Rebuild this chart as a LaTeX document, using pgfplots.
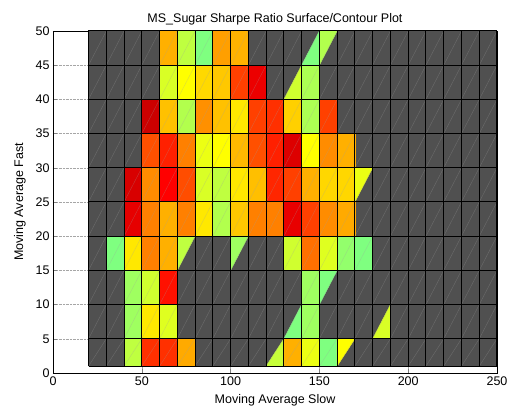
\documentclass[border=0pt]{standalone}
\usepackage{fontspec}
\setmainfont{Liberation Sans}
\usepackage{pgfplots}
\pgfplotsset{compat=1.18}
\definecolor{cellgray}{RGB}{80,80,80}
\newcommand{\chartfont}{\fontsize{12.5}{15}\selectfont}
\begin{document}
\begin{tikzpicture}
\path[use as bounding box] (-53pt,-39pt) rectangle (459pt,373pt);
\begin{axis}[
  at={(0pt,0pt)}, anchor=south west,
  scale only axis, width=444pt, height=342pt,
  xmin=0, xmax=250, ymin=0, ymax=50,
  xtick={0,50,...,250}, ytick={0,5,...,50},
  tick align=inside, major tick length=4pt,
  grid=major, grid style={densely dotted, gray!70, line width=0.5pt},
  colormap/jet, point meta min=0, point meta max=8,
  title={MS\_Sugar Sharpe Ratio Surface/Contour Plot},
  xlabel={Moving Average Slow}, ylabel={Moving Average Fast},
  title style={font=\chartfont, yshift=-4pt},
  label style={font=\chartfont},
  xlabel style={yshift=-2pt},
  ylabel style={yshift=3pt},
  tick label style={font=\chartfont},
  /pgf/number format/assume math mode=true,
  unbounded coords=jump,
  axis line style={line width=0.6pt},
]
% gray background of the surface (cells without a value)
\addplot[fill=cellgray, draw=none] coordinates {(20,1)(250,1)(250,50)(20,50)(20,1)};

% full cells: (x0,y0)(x1,y0)(x1,y1)(x0,y1) with Sharpe value as meta
\addplot[patch, patch type=rectangle, shader=flat, point meta=explicit] coordinates {
% row 45-50
(60,45)[5.62] (70,45)[5.62] (70,50)[5.62] (60,50)[5.62]
(70,45)[4.5] (80,45)[4.5] (80,50)[4.5] (70,50)[4.5]
(80,45)[4.0] (90,45)[4.0] (90,50)[4.0] (80,50)[4.0]
(90,45)[5.75] (100,45)[5.75] (100,50)[5.75] (90,50)[5.75]
(100,45)[5.6] (110,45)[5.6] (110,50)[5.6] (100,50)[5.6]
% row 40-45
(60,40)[4.7] (70,40)[4.7] (70,45)[4.7] (60,45)[4.7]
(70,40)[5.0] (80,40)[5.0] (80,45)[5.0] (70,45)[5.0]
(80,40)[5.3] (90,40)[5.3] (90,45)[5.3] (80,45)[5.3]
(90,40)[5.43] (100,40)[5.43] (100,45)[5.43] (90,45)[5.43]
(100,40)[6.5] (110,40)[6.5] (110,45)[6.5] (100,45)[6.5]
(110,40)[7.15] (120,40)[7.15] (120,45)[7.15] (110,45)[7.15]
(140,40)[4.35] (150,40)[4.35] (150,45)[4.35] (140,45)[4.35]
% row 35-40
(50,35)[7.4] (60,35)[7.4] (60,40)[7.4] (50,40)[7.4]
(60,35)[5.49] (70,35)[5.49] (70,40)[5.49] (60,40)[5.49]
(70,35)[4.4] (80,35)[4.4] (80,40)[4.4] (70,40)[4.4]
(80,35)[5.87] (90,35)[5.87] (90,40)[5.87] (80,40)[5.87]
(90,35)[5.49] (100,35)[5.49] (100,40)[5.49] (90,40)[5.49]
(100,35)[5.18] (110,35)[5.18] (110,40)[5.18] (100,40)[5.18]
(110,35)[6.5] (120,35)[6.5] (120,40)[6.5] (110,40)[6.5]
(120,35)[6.62] (130,35)[6.62] (130,40)[6.62] (120,40)[6.62]
(130,35)[5.37] (140,35)[5.37] (140,40)[5.37] (130,40)[5.37]
(140,35)[4.35] (150,35)[4.35] (150,40)[4.35] (140,40)[4.35]
(150,35)[6.5] (160,35)[6.5] (160,40)[6.5] (150,40)[6.5]
% row 30-35
(50,30)[6.37] (60,30)[6.37] (60,35)[6.37] (50,35)[6.37]
(60,30)[6.75] (70,30)[6.75] (70,35)[6.75] (60,35)[6.75]
(70,30)[6.0] (80,30)[6.0] (80,35)[6.0] (70,35)[6.0]
(80,30)[4.85] (90,30)[4.85] (90,35)[4.85] (80,35)[4.85]
(90,30)[5.0] (100,30)[5.0] (100,35)[5.0] (90,35)[5.0]
(100,30)[5.55] (110,30)[5.55] (110,35)[5.55] (100,35)[5.55]
(110,30)[6.37] (120,30)[6.37] (120,35)[6.37] (110,35)[6.37]
(120,30)[6.75] (130,30)[6.75] (130,35)[6.75] (120,35)[6.75]
(130,30)[7.27] (140,30)[7.27] (140,35)[7.27] (130,35)[7.27]
(140,30)[5.0] (150,30)[5.0] (150,35)[5.0] (140,35)[5.0]
(150,30)[5.9] (160,30)[5.9] (160,35)[5.9] (150,35)[5.9]
(160,30)[5.62] (170,30)[5.62] (170,35)[5.62] (160,35)[5.62]
% row 25-30
(40,25)[7.31] (50,25)[7.31] (50,30)[7.31] (40,30)[7.31]
(50,25)[5.9] (60,25)[5.9] (60,30)[5.9] (50,30)[5.9]
(60,25)[7.0] (70,25)[7.0] (70,30)[7.0] (60,30)[7.0]
(70,25)[6.4] (80,25)[6.4] (80,30)[6.4] (70,30)[6.4]
(80,25)[4.7] (90,25)[4.7] (90,30)[4.7] (80,30)[4.7]
(90,25)[4.5] (100,25)[4.5] (100,30)[4.5] (90,30)[4.5]
(100,25)[5.18] (110,25)[5.18] (110,30)[5.18] (100,30)[5.18]
(110,25)[5.5] (120,25)[5.5] (120,30)[5.5] (110,30)[5.5]
(120,25)[6.7] (130,25)[6.7] (130,30)[6.7] (120,30)[6.7]
(130,25)[6.5] (140,25)[6.5] (140,30)[6.5] (130,30)[6.5]
(140,25)[5.62] (150,25)[5.62] (150,30)[5.62] (140,30)[5.62]
(150,25)[5.31] (160,25)[5.31] (160,30)[5.31] (150,30)[5.31]
(160,25)[5.31] (170,25)[5.31] (170,30)[5.31] (160,30)[5.31]
% row 20-25
(40,20)[7.2] (50,20)[7.2] (50,25)[7.2] (40,25)[7.2]
(50,20)[6.0] (60,20)[6.0] (60,25)[6.0] (50,25)[6.0]
(60,20)[5.62] (70,20)[5.62] (70,25)[5.62] (60,25)[5.62]
(70,20)[6.0] (80,20)[6.0] (80,25)[6.0] (70,25)[6.0]
(80,20)[5.18] (90,20)[5.18] (90,25)[5.18] (80,25)[5.18]
(90,20)[4.4] (100,20)[4.4] (100,25)[4.4] (90,25)[4.4]
(100,20)[5.43] (110,20)[5.43] (110,25)[5.43] (100,25)[5.43]
(110,20)[6.0] (120,20)[6.0] (120,25)[6.0] (110,25)[6.0]
(120,20)[6.0] (130,20)[6.0] (130,25)[6.0] (120,25)[6.0]
(130,20)[7.18] (140,20)[7.18] (140,25)[7.18] (130,25)[7.18]
(140,20)[6.5] (150,20)[6.5] (150,25)[6.5] (140,25)[6.5]
(150,20)[5.9] (160,20)[5.9] (160,25)[5.9] (150,25)[5.9]
(160,20)[5.67] (170,20)[5.67] (170,25)[5.67] (160,25)[5.67]
% row 15-20
(30,15)[4.0] (40,15)[4.0] (40,20)[4.0] (30,20)[4.0]
(40,15)[5.18] (50,15)[5.18] (50,20)[5.18] (40,20)[5.18]
(50,15)[6.0] (60,15)[6.0] (60,20)[6.0] (50,20)[6.0]
(60,15)[5.62] (70,15)[5.62] (70,20)[5.62] (60,20)[5.62]
(130,15)[4.63] (140,15)[4.63] (140,20)[4.63] (130,20)[4.63]
(140,15)[6.12] (150,15)[6.12] (150,20)[6.12] (140,20)[6.12]
(150,15)[4.75] (160,15)[4.75] (160,20)[4.75] (150,20)[4.75]
(160,15)[4.15] (170,15)[4.15] (170,20)[4.15] (160,20)[4.15]
(170,15)[4.0] (180,15)[4.0] (180,20)[4.0] (170,20)[4.0]
% row 10-15
(40,10)[4.25] (50,10)[4.25] (50,15)[4.25] (40,15)[4.25]
(50,10)[4.63] (60,10)[4.63] (60,15)[4.63] (50,15)[4.63]
(60,10)[6.87] (70,10)[6.87] (70,15)[6.87] (60,15)[6.87]
(140,10)[4.25] (150,10)[4.25] (150,15)[4.25] (140,15)[4.25]
% row 5-10
(40,5)[4.25] (50,5)[4.25] (50,10)[4.25] (40,10)[4.25]
(50,5)[5.18] (60,5)[5.18] (60,10)[5.18] (50,10)[5.18]
(60,5)[4.75] (70,5)[4.75] (70,10)[4.75] (60,10)[4.75]
(140,5)[4.25] (150,5)[4.25] (150,10)[4.25] (140,10)[4.25]
% row 1-5
(40,1)[4.5] (50,1)[4.5] (50,5)[4.5] (40,5)[4.5]
(50,1)[6.62] (60,1)[6.62] (60,5)[6.62] (50,5)[6.62]
(60,1)[6.62] (70,1)[6.62] (70,5)[6.62] (60,5)[6.62]
(70,1)[5.67] (80,1)[5.67] (80,5)[5.67] (70,5)[5.67]
(130,1)[5.62] (140,1)[5.62] (140,5)[5.62] (130,5)[5.62]
(140,1)[4.85] (150,1)[4.85] (150,5)[4.85] (140,5)[4.85]
(150,1)[4.0] (160,1)[4.0] (160,5)[4.0] (150,5)[4.0]
};

% half cells (triangles)
\addplot[patch, patch type=triangle, shader=flat, point meta=explicit] coordinates {
(140,45)[4.0] (150,45)[4.0] (150,50)[4.0]
(150,45)[4.4] (160,50)[4.4] (150,50)[4.4]
(130,40)[4.63] (140,40)[4.63] (140,45)[4.63]
(170,25)[4.85] (180,30)[4.85] (170,30)[4.85]
(70,15)[4.5] (80,20)[4.5] (70,20)[4.5]
(100,15)[4.25] (110,20)[4.25] (100,20)[4.25]
(150,10)[4.0] (160,15)[4.0] (150,15)[4.0]
(130,5)[4.0] (140,5)[4.0] (140,10)[4.0]
(180,5)[4.7] (190,5)[4.7] (190,10)[4.7]
(120,1)[4.55] (130,1)[4.55] (130,5)[4.55]
(160,1)[5.0] (170,5)[5.0] (160,5)[5.0]
};

% faint triangulation diagonals
\addplot[gray!75, opacity=0.35, line width=0.4pt] coordinates {
(20,1)(30,5)(120,50) (nan,nan)
(30,1)(40,5)(130,50) (nan,nan)
(40,1)(50,5)(140,50) (nan,nan)
(50,1)(60,5)(150,50) (nan,nan)
(60,1)(70,5)(160,50) (nan,nan)
(70,1)(80,5)(170,50) (nan,nan)
(80,1)(90,5)(180,50) (nan,nan)
(90,1)(100,5)(190,50) (nan,nan)
(100,1)(110,5)(200,50) (nan,nan)
(110,1)(120,5)(210,50) (nan,nan)
(120,1)(130,5)(220,50) (nan,nan)
(130,1)(140,5)(230,50) (nan,nan)
(140,1)(150,5)(240,50) (nan,nan)
(150,1)(160,5)(250,50) (nan,nan)
(160,1)(170,5)(250,45) (nan,nan)
(170,1)(180,5)(250,40) (nan,nan)
(180,1)(190,5)(250,35) (nan,nan)
(190,1)(200,5)(250,30) (nan,nan)
(200,1)(210,5)(250,25) (nan,nan)
(210,1)(220,5)(250,20) (nan,nan)
(220,1)(230,5)(250,15) (nan,nan)
(230,1)(240,5)(250,10) (nan,nan)
(240,1)(250,5) (nan,nan)
(20,5)(110,50) (nan,nan)
(20,10)(100,50) (nan,nan)
(20,15)(90,50) (nan,nan)
(20,20)(80,50) (nan,nan)
(20,25)(70,50) (nan,nan)
(20,30)(60,50) (nan,nan)
(20,35)(50,50) (nan,nan)
(20,40)(40,50) (nan,nan)
(20,45)(30,50)
};

% black cell edges
\addplot[black, line width=1pt] coordinates {
(20,1)(20,50)(30,50)(30,1)(40,1)(40,50)(50,50)(50,1)(60,1)(60,50)(70,50)(70,1)
(80,1)(80,50)(90,50)(90,1)(100,1)(100,50)(110,50)(110,1)(120,1)(120,50)(130,50)(130,1)
(140,1)(140,50)(150,50)(150,1)(160,1)(160,50)(170,50)(170,1)(180,1)(180,50)(190,50)(190,1)
(200,1)(200,50)(210,50)(210,1)(220,1)(220,50)(230,50)(230,1)(240,1)(240,50)(250,50)(250,1)
};
\addplot[black, line width=1pt] coordinates {
(20,1)(250,1)(250,5)(20,5)(20,10)(250,10)(250,15)(20,15)(20,20)(250,20)(250,25)(20,25)
(20,30)(250,30)(250,35)(20,35)(20,40)(250,40)(250,45)(20,45)(20,50)(250,50)
};
\end{axis}
\end{tikzpicture}
\end{document}
